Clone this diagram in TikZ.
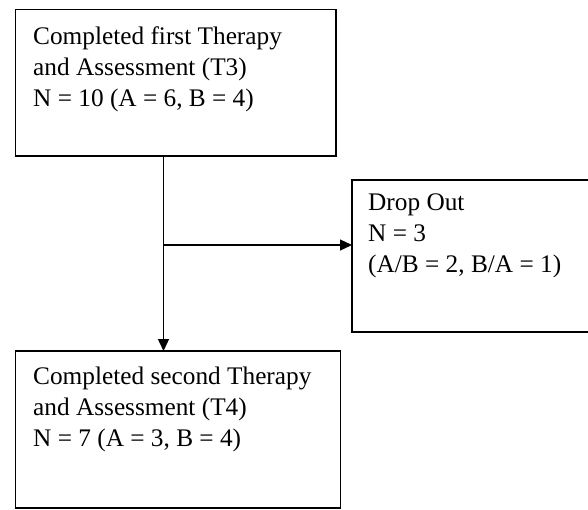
\documentclass[tikz,border=0pt]{standalone}
\usepackage{fontspec}
\setmainfont{Liberation Serif}
\usetikzlibrary{arrows.meta}
\begin{document}
\begin{tikzpicture}[x=1pt,y=-1pt,
  box/.style={draw=black, line width=1.3pt, rectangle, inner sep=0pt, outer sep=0pt, anchor=north west},
  boxtext/.style={anchor=north west, inner sep=0pt, align=left, font=\fontsize{25.3}{31}\selectfont},
  conn/.style={line width=1.3pt, draw=black},
  arr/.style={conn, -{Triangle[length=12pt,width=11pt]}}]
\useasboundingbox (0,0) rectangle (588,509);
\node[box, minimum width=320.5pt, minimum height=146.5pt] (t3) at (15.5,9.5) {};
\node[box, minimum width=238pt, minimum height=152pt] (drop) at (352,180) {};
\node[box, minimum width=325pt, minimum height=157pt] (t4) at (15.5,351) {};
\node[boxtext] (t3txt) at (33,26) {Completed first Therapy\\and Assessment (T3)\\N = 10 (A = 6, B = 4)};
\node[boxtext] (droptxt) at (368,194) {Drop Out\\N = 3\\(A/B = 2, B/A = 1)};
\node[boxtext] (t4txt) at (33,367) {Completed second Therapy\\and Assessment (T4)\\N = 7 (A = 3, B = 4)};
\coordinate (br) at (163.5,245);
\draw[conn] (t3.south -| br) -- (br);
\draw[arr] (br) -- (t4.north -| br);
\draw[arr] (br) -- (br -| drop.west);
\end{tikzpicture}
\end{document}
